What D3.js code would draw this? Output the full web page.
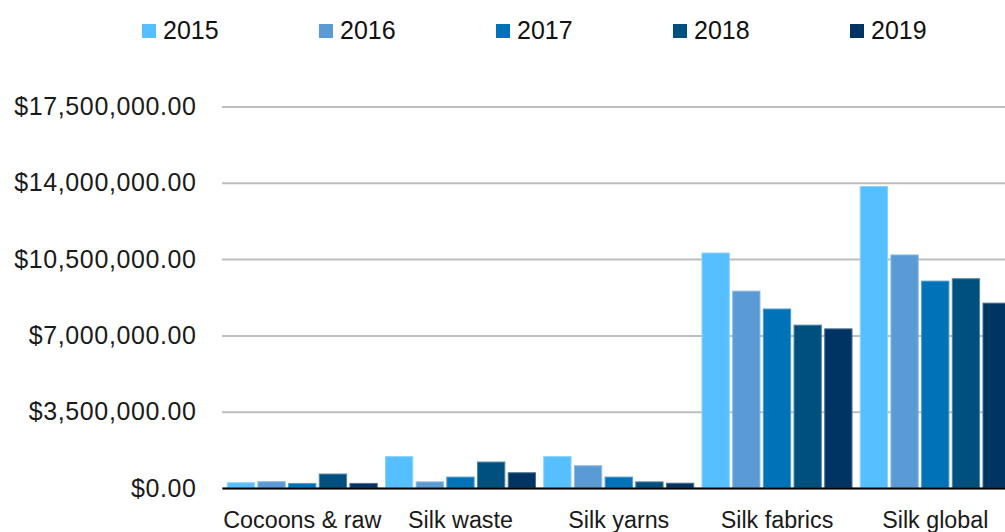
<!DOCTYPE html>
<html>
<head>
<meta charset="utf-8">
<script src="https://cdn.jsdelivr.net/npm/d3@7"></script>
<style>
  html, body { margin: 0; padding: 0; background: #ffffff; }
  svg { display: block; font-family: "Liberation Sans", Arial, Helvetica, sans-serif; }
</style>
</head>
<body>
<svg id="chart" width="1005" height="532"></svg>
<script>
// Silk trade value by product group, 2015–2019 (USD)
const categories = ["Cocoons & raw", "Silk waste", "Silk yarns", "Silk fabrics", "Silk global"];
const years = ["2015", "2016", "2017", "2018", "2019"];
const colors = ["#56BFFF", "#5B9BD5", "#0072B8", "#00507F", "#003462"];

// one array per year, in category order
const values2015 = [240000, 1440000, 1440000, 10780000, 13830000];
const values2016 = [290000, 280000, 1020000, 9030000, 10690000];
const values2017 = [210000, 500000, 500000, 8210000, 9490000];
const values2018 = [640000, 1190000, 280000, 7470000, 9600000];
const values2019 = [210000, 700000, 220000, 7300000, 8480000];
const seriesValues = [values2015, values2016, values2017, values2018, values2019];

const yTicks = [0, 3500000, 7000000, 10500000, 14000000, 17500000];

const svg = d3.select("#chart");

const plot = { left: 222, right: 1015.5, top: 106.5, bottom: 488 };

const x0 = d3.scaleBand()
  .domain(categories)
  .range([plot.left, plot.right])
  .paddingInner(0.052)
  .paddingOuter(0.033);

const x1 = d3.scaleBand()
  .domain(years)
  .range([0, x0.bandwidth()])
  .paddingInner(0.11);

const y = d3.scaleLinear()
  .domain([0, 17500000])
  .range([plot.bottom, plot.top]);

const color = d3.scaleOrdinal().domain(years).range(colors);
const fmt = v => "$" + d3.format(",.2f")(v);

// gridlines and tick labels
const yAxis = d3.axisLeft(y)
  .tickValues(yTicks)
  .tickFormat(fmt)
  .tickSize(-(plot.right - plot.left))
  .tickPadding(25.5);

const gy = svg.append("g")
  .attr("transform", `translate(${plot.left},0)`)
  .call(yAxis);
gy.select(".domain").remove();
gy.selectAll(".tick line")
  .attr("stroke", "#BEBEBE")
  .attr("stroke-width", 2);
gy.selectAll(".tick text")
  .attr("fill", "#1a1a1a")
  .attr("font-size", 25)
  .attr("letter-spacing", 0.6)
  .attr("dy", "0.32em");

// bars
const rows = categories.map((c, i) => ({
  category: c,
  bars: years.map((yr, j) => ({ year: yr, value: seriesValues[j][i] }))
}));

const groups = svg.append("g")
  .selectAll("g")
  .data(rows)
  .join("g")
  .attr("transform", d => `translate(${x0(d.category)},0)`);

groups.selectAll("rect")
  .data(d => d.bars)
  .join("rect")
  .attr("x", d => x1(d.year))
  .attr("y", d => y(d.value))
  .attr("width", x1.bandwidth())
  .attr("height", d => y(0) - y(d.value))
  .attr("fill", d => color(d.year))
  .attr("stroke", d => d3.interpolateRgb(color(d.year), "#ffffff")(0.3))
  .attr("stroke-width", 1);

// baseline
const gx = svg.append("g")
  .attr("transform", `translate(0,${plot.bottom})`)
  .call(d3.axisBottom(x0).tickSize(0).tickPadding(23.5));
gx.select(".domain")
  .attr("stroke", "#000000")
  .attr("stroke-width", 2);
gx.selectAll(".tick text")
  .attr("fill", "#1a1a1a")
  .attr("font-size", 23.3);

// legend
const legendX = d3.scaleBand()
  .domain(years)
  .range([142, 142 + 177 * years.length]);

const legend = svg.append("g")
  .selectAll("g")
  .data(years)
  .join("g")
  .attr("transform", d => `translate(${legendX(d)},24)`);

legend.append("rect")
  .attr("width", 14)
  .attr("height", 14)
  .attr("fill", d => color(d));

legend.append("text")
  .attr("x", 21)
  .attr("y", 14.6)
  .attr("font-size", 25)
  .attr("fill", "#111111")
  .text(d => d);
</script>
</body>
</html>
